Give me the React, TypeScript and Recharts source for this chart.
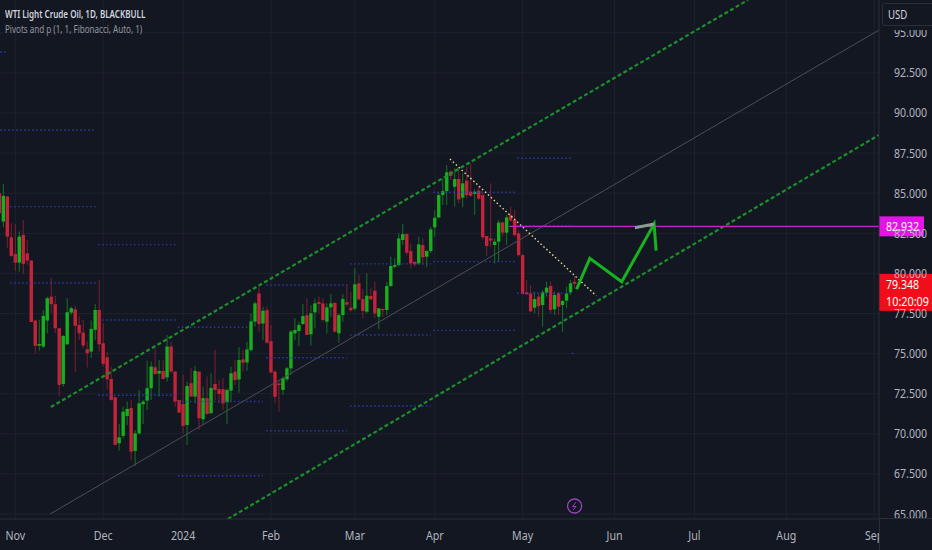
import React from 'react';
import { ComposedChart, Bar, Line, XAxis, YAxis, CartesianGrid, ReferenceLine, ReferenceDot } from 'recharts';

const BG = '#131722';
const GRID = '#1e222d';
const BORDER = '#2a2e39';
const TEXT = '#b2b5be';
const UP = '#16b01f';
const DOWN = '#c4233a';

const opens = [85.0,83.23,84.79,82.25,81.21,80.67,82.4,81.25,80.8,77.06,75.5,75.44,77.06,78.55,78.08,76.58,73.11,75.58,77.56,77.76,76.79,76.31,75.27,75.12,76.48,77.72,75.64,74.77,73.42,72.28,69.41,69.87,71.11,71.61,68.93,70.03,71.84,72.07,72.84,74.15,73.75,73.92,73.52,75.44,73.88,72.11,71.86,70.55,73.15,72.32,73.88,70.91,72.22,71.28,73.11,72.78,72.78,71.97,72.69,73.87,73.39,74.64,74.45,75.22,76.99,78.75,76.88,77.71,75.78,73.87,73.14,72.73,73.39,74.08,76.26,76.41,76.84,77.4,76.2,77.57,78.21,78.13,76.99,77.88,78.17,76.26,77.4,78.21,77.86,77.8,79.38,78.4,77.61,78.59,78.92,77.3,77.78,77.72,79.21,80.42,80.52,82.08,82.45,81.39,80.73,80.62,81.77,81.04,81.39,82.87,83.49,84.88,85.13,86.34,85.4,85.88,84.72,85.78,85.09,84.95,85.16,84.88,82.33,82.18,81.77,81.98,83.18,82.54,83.64,83.33,82.49,81.14,78.82,78.75,77.86,78.55,78.03,78.8,79.21,77.76,78.75,78.03,78.3,78.82,79.48];
const highs = [85.1,85.58,84.83,83.13,83.08,82.61,83.33,82.09,80.84,77.1,77.1,77.72,78.55,79.7,78.6,76.58,76.16,78.45,77.93,77.97,77.31,77.1,75.75,77.06,78.1,79.59,76.89,75.12,74.19,72.32,70.62,71.7,72.01,72.11,70.24,72.73,72.11,74.56,74.5,75.33,74.6,74.6,76.16,75.75,73.88,72.11,73.67,73.25,74.09,74.23,73.88,72.94,73.57,73.77,75.23,73.36,73.46,72.84,74.18,74.6,75.39,75.22,75.74,77.51,78.24,79.13,77.92,77.92,76.78,73.98,73.35,73.56,74.18,76.47,77.2,76.99,78.09,78.44,78.03,78.44,78.55,78.44,78.13,78.71,78.17,77.51,78.71,79.34,78.86,80.31,79.9,79.0,80.0,79.07,79.48,77.82,77.82,79.48,81.04,80.94,82.5,83.08,82.5,81.87,80.73,82.29,82.18,81.46,82.91,83.95,85.03,85.92,86.75,86.44,86.55,86.44,86.24,86.65,86.86,85.24,85.45,85.09,82.33,85.61,82.18,83.33,83.22,83.64,84.16,83.95,82.7,81.19,79.59,79.27,78.86,78.75,78.96,79.48,79.48,78.86,78.86,78.34,79.17,79.59,79.83];
const lows = [83.54,82.88,81.57,81.01,80.15,80.11,79.97,80.53,76.97,75.02,75.17,75.33,76.27,77.51,76.27,72.36,72.94,75.54,77.41,73.84,75.85,75.33,74.13,74.71,75.85,75.12,74.19,72.78,72.07,69.31,68.95,69.72,70.55,68.37,68.0,69.93,70.62,71.49,72.11,73.67,72.32,73.4,73.25,73.77,71.7,71.28,70.03,69.31,72.32,71.9,70.24,70.55,71.18,71.28,72.11,71.9,71.49,70.62,72.0,73.04,72.56,73.87,73.93,75.12,76.68,76.37,75.84,75.6,73.77,71.9,71.38,72.42,73.25,73.66,75.84,75.47,76.78,76.16,75.49,76.57,77.51,76.99,76.26,77.3,76.3,75.68,76.99,77.92,77.61,77.67,78.34,77.2,77.51,78.34,77.2,76.51,77.3,77.4,79.17,80.31,80.42,81.77,81.14,80.31,80.42,80.52,80.52,80.38,81.25,82.29,83.43,84.26,84.26,85.82,84.16,84.37,84.12,84.68,84.78,83.64,84.57,82.12,81.08,81.66,80.62,80.73,82.29,81.77,83.22,82.29,81.04,78.71,78.69,77.61,77.51,77.3,76.68,78.55,77.51,77.4,77.4,76.36,77.82,78.65,79.07];
const closes = [83.75,84.83,82.29,81.09,80.67,82.29,80.59,80.8,76.97,75.48,75.6,77.35,78.45,78.08,76.58,73.05,76.1,77.58,77.83,76.73,76.27,75.5,75.02,76.54,77.72,75.58,74.36,73.4,72.11,69.31,69.78,71.38,71.55,68.89,70.03,71.9,72.01,72.84,74.19,73.73,73.92,73.42,75.44,73.88,72.01,71.32,70.49,72.98,72.32,73.92,70.97,72.22,71.24,72.86,72.73,72.49,71.9,72.73,73.77,73.35,74.6,74.43,75.26,77.01,78.13,76.84,77.67,75.68,73.83,72.31,73.04,73.46,74.08,76.37,76.47,76.78,77.34,76.16,77.51,78.13,78.09,77.09,77.88,78.13,76.37,77.4,78.4,78.05,77.7,79.32,78.38,77.65,78.61,78.38,77.51,77.82,77.7,79.21,80.46,80.52,82.18,82.45,81.29,80.62,80.56,81.81,81.0,81.39,82.74,83.47,84.88,85.13,86.3,86.07,85.88,84.61,85.61,84.88,84.84,85.09,84.66,82.25,81.71,82.04,81.98,83.16,82.54,83.49,83.29,82.39,81.14,78.71,78.69,77.63,78.4,77.96,78.82,79.11,77.72,78.65,77.92,78.28,78.75,79.38,79.35];

const priceTicks = [65, 67.5, 70, 72.5, 75, 77.5, 80, 82.5, 85, 87.5, 90, 92.5, 95];
const monthTicks = [4, 26, 46, 68, 89, 109, 131, 154, 174, 197, 219];
const monthLabels = ['Nov', 'Dec', '2024', 'Feb', 'Mar', 'Apr', 'May', 'Jun', 'Jul', 'Aug', 'Sep'];

// drawing tools, bar index / price
const upperChannel = [{ i: 12.9, v: 71.67 }, { i: 187.4, v: 97.04 }];
const lowerChannel = [{ i: 57.2, v: 64.69 }, { i: 220.2, v: 88.63 }];
const midLine = [{ i: 12.7, v: 65 }, { i: 220.2, v: 95.17 }];
const yellowLine = [{ i: 112.8, v: 87.13 }, { i: 149.4, v: 78.61 }];
const targetLevel = [{ i: 127.6, v: 82.932 }, { i: 220.2, v: 82.932 }];
const forecastPath = [
  { i: 144.5, v: 79.01 },
  { i: 147.8, v: 80.94 },
  { i: 155.8, v: 79.48 },
  { i: 163.9, v: 83.08 },
  { i: 164.4, v: 81.42 },
];
const forecastCap = [{ i: 159.1, v: 82.85 }, { i: 163.9, v: 83.08 }];

const pivotStarts = [0.2, 0.2, 2.7, 24.7, 2.7, 25.7, 44.7, 24.7, 44.7, 44.7, 66.8, 66.8, 66.8, 87.8, 87.8, 87.8, 108.6, 108.6, 108.6, 129.6, 129.6, 129.6, 143.3];
const pivotEnds = [2.2, 24.2, 24.2, 44.2, 24.2, 44.2, 62.2, 44.2, 66, 66, 87, 87, 87, 108, 108, 108, 129, 129, 129, 143.1, 143.1, 143.1, 144.3];
const pivotPrices = [93.8, 88.94, 84.16, 81.79, 79.4, 77.09, 76.64, 72.4, 72.01, 67.39, 79.28, 74.74, 70.19, 80.59, 76.16, 71.73, 85.06, 80.73, 76.45, 87.18, 82.96, 78.76, 75.01];

const candles = opens.map((o, i) => ({
  i,
  range: [lows[i], highs[i]],
  open: o,
  close: closes[i],
  high: highs[i],
  low: lows[i],
}));

const pivots = pivotPrices.map((v, k) => [
  { i: pivotStarts[k], v },
  { i: pivotEnds[k], v },
]);

function Candle(props: any) {
  const { x, y, width, height, payload } = props;
  const { open, close, high, low } = payload;
  const pxPerUnit = height / (high - low);
  const top = y + (high - Math.max(open, close)) * pxPerUnit;
  const bodyH = Math.max(Math.abs(open - close) * pxPerUnit, 1);
  const color = close >= open ? UP : DOWN;
  const cx = x + width / 2;
  return (
    <g>
      <line x1={cx} x2={cx} y1={y} y2={y + height} stroke={color} strokeOpacity={0.6} strokeWidth={1} />
      <rect x={cx - 1.7} y={top} width={3.4} height={bodyH} fill={color} />
    </g>
  );
}

function PriceTick(props: any) {
  const { x, y, payload } = props;
  return (
    <text x={x + 7} y={y + 4.5} fill={TEXT} fontSize={13} fontFamily="Noto Sans" textLength={33} lengthAdjust="spacingAndGlyphs">
      {payload.value.toFixed(3)}
    </text>
  );
}

function MonthTick(props: any) {
  const { x, y, payload } = props;
  const label = monthLabels[monthTicks.indexOf(payload.value)];
  return (
    <text x={x} y={y + 13} fill={TEXT} fontSize={13} fontFamily="Noto Sans" textAnchor="middle" transform={`translate(${x * 0.18} 0) scale(0.82 1)`}>
      {label}
    </text>
  );
}

function TargetTag(props: any) {
  const { x, y, width } = props.viewBox;
  const left = x + width;
  return (
    <g>
      <rect x={left} y={y - 10} width={45} height={20} fill="#e612e6" />
      <text x={left + 7} y={y + 5} fill="#fff" fontSize={13} fontFamily="Noto Sans" textLength={33} lengthAdjust="spacingAndGlyphs">82.932</text>
    </g>
  );
}

function LastTag(props: any) {
  const { x, y, width } = props.viewBox;
  const left = x + width;
  return (
    <g>
      <rect x={left} y={y - 10} width={53} height={37} fill="#f20d1a" />
      <text x={left + 7} y={y + 5} fill="#fff" fontSize={13} fontFamily="Noto Sans" textLength={33} lengthAdjust="spacingAndGlyphs">79.348</text>
      <text x={left + 7} y={y + 22} fill="#fff" fontSize={13} fontFamily="Noto Sans" textLength={43} lengthAdjust="spacingAndGlyphs">10:20:09</text>
    </g>
  );
}

function BoltMark(props: any) {
  const { cx, cy } = props;
  return (
    <g>
      <circle cx={cx} cy={cy} r={7} fill={BG} stroke="#9c3fc0" strokeWidth={1.3} />
      <path d={`M${cx + 1.5} ${cy - 4} L${cx - 2} ${cy + 0.5} L${cx + 1.5} ${cy + 0.5} L${cx - 1.5} ${cy + 4}`} fill="none" stroke="#9c3fc0" strokeWidth={1} />
    </g>
  );
}

export default function App() {
  return (
    <div style={{ position: 'fixed', left: 0, top: 0, width: 932, height: 550, background: BG, overflow: 'hidden' }}>
      <ComposedChart width={932} height={550} data={candles} margin={{ top: 0, right: 0, bottom: 0, left: 0 }}>
        <CartesianGrid stroke={GRID} syncWithTicks />
        <XAxis
          dataKey="i"
          type="number"
          domain={[0.168, 220.2]}
          ticks={monthTicks}
          allowDataOverflow
          height={31}
          stroke={BORDER}
          tickLine={false}
          interval={0}
          tick={<MonthTick />}
        />
        <YAxis
          orientation="right"
          type="number"
          domain={[64.69, 97.04]}
          ticks={priceTicks}
          allowDataOverflow
          width={53}
          stroke={BORDER}
          tickLine={false}
          interval={0}
          tick={<PriceTick />}
        />
        {pivots.map((seg, k) => (
          <Line key={k} data={seg} dataKey="v" stroke="#2f3fb8" strokeOpacity={0.85} strokeWidth={1.4} strokeDasharray="1.5 2.5" dot={false} isAnimationActive={false} />
        ))}
        <Line data={midLine} dataKey="v" stroke="#4b4e59" strokeWidth={1} dot={false} isAnimationActive={false} />
        <Bar dataKey="range" barSize={3} shape={<Candle />} isAnimationActive={false} />
        <Line data={upperChannel} dataKey="v" stroke="#1c8f2c" strokeWidth={2.2} strokeDasharray="4 2.5" dot={false} isAnimationActive={false} />
        <Line data={lowerChannel} dataKey="v" stroke="#1c8f2c" strokeWidth={2.2} strokeDasharray="4 2.5" dot={false} isAnimationActive={false} />
        <Line data={yellowLine} dataKey="v" stroke="#e8dc8e" strokeWidth={1.4} strokeDasharray="1.5 2.5" dot={false} isAnimationActive={false} />
        <Line data={targetLevel} dataKey="v" stroke="#c81fc8" strokeWidth={1.3} dot={false} isAnimationActive={false} />
        <Line data={forecastPath} dataKey="v" stroke="#17b31f" strokeWidth={3} dot={false} isAnimationActive={false} />
        <Line data={forecastCap} dataKey="v" stroke="#8a9c8e" strokeWidth={3} dot={false} isAnimationActive={false} />
        <ReferenceDot x={144} y={65.5} r={7} shape={<BoltMark />} />
        <ReferenceLine y={82.932} strokeOpacity={0} label={<TargetTag />} />
        <ReferenceLine y={79.348} strokeOpacity={0} label={<LastTag />} />
      </ComposedChart>
      <div style={{ position: 'absolute', left: 879, top: 518, width: 53, height: 32, background: BG, borderLeft: `1px solid ${BORDER}`, borderTop: `1px solid ${BORDER}`, boxSizing: 'border-box' }} />
      <div style={{ position: 'absolute', left: 880, top: 0, width: 52, height: 29.5, background: BG }} />
      <div style={{ position: 'absolute', left: 882, top: 3, width: 60, height: 23, background: BG, border: `1px solid ${BORDER}`, borderRadius: 3, boxSizing: 'border-box', color: '#d1d4dc', fontFamily: 'Noto Sans', fontSize: 12, lineHeight: '21px', paddingLeft: 5 }}>
        <span style={{ display: 'inline-block', transform: 'scaleX(0.8)', transformOrigin: 'left' }}>USD</span>
      </div>
      <div style={{ position: 'absolute', left: 5, top: 6, color: '#d1d4dc', fontFamily: 'Noto Sans', fontSize: 11.5, fontWeight: 600, whiteSpace: 'nowrap', transform: 'scaleX(0.7)', transformOrigin: 'left' }}>
        WTI Light Crude Oil, 1D, BLACKBULL
      </div>
      <div style={{ position: 'absolute', left: 5, top: 21, color: '#9598a1', fontFamily: 'Noto Sans', fontSize: 11.5, whiteSpace: 'nowrap', transform: 'scaleX(0.7)', transformOrigin: 'left' }}>
        Pivots and p (1, 1, Fibonacci, Auto, 1)
      </div>
    </div>
  );
}
